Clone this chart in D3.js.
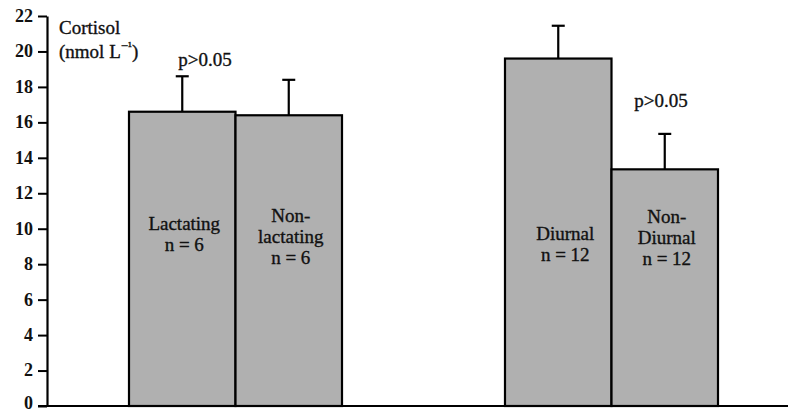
<!DOCTYPE html>
<html>
<head>
<meta charset="utf-8">
<script src="https://cdn.jsdelivr.net/npm/d3@7"></script>
<style>
  body { margin: 0; background: #fff; }
  svg { display: block; font-family: "Liberation Serif", "Times New Roman", serif; }
</style>
</head>
<body>
<div id="chart"></div>
<script>
const width = 788, height = 412;

// data
const groups = ["Lactation", "Diurnal"];
const barLabels = [
    [["Lactating", "n = 6"], ["Non-", "lactating", "n = 6"]],
    [["Diurnal", "n = 12"], ["Non-", "Diurnal", "n = 12"]]
];
const means = [[16.6, 16.4], [19.6, 13.35]];
const errors = [[2.0, 2.0], [1.85, 2.0]];
const pLabels = ["p>0.05", "p>0.05"];
const yTicks = [0, 2, 4, 6, 8, 10, 12, 14, 16, 18, 20, 22];

let svg = d3.select("#chart")
    .append("svg")
    .attr("width", width)
    .attr("height", height);

let y = d3.scaleLinear()
    .domain([0, 22])
    .range([406, 16]);

let x0 = d3.scaleBand()
    .domain(groups)
    .range([129, 718])
    .paddingInner(0.4335);

let x1 = d3.scaleBand()
    .domain([0, 1])
    .range([0, x0.bandwidth()]);

// bars
let bars = [];
groups.forEach(function(g, gi) {
    means[gi].forEach(function(m, bi) {
        bars.push({group: g, gi: gi, bi: bi, value: m, err: errors[gi][bi], label: barLabels[gi][bi]});
    });
});

let barG = svg.append("g");

// error bars first (behind bars)
barG.selectAll("line.err")
    .data(bars)
    .enter()
    .append("line")
    .attr("class", "err")
    .attr("x1", function(d) { return x0(d.group) + x1(d.bi) + x1.bandwidth() / 2; })
    .attr("x2", function(d) { return x0(d.group) + x1(d.bi) + x1.bandwidth() / 2; })
    .attr("y1", function(d) { return y(d.value); })
    .attr("y2", function(d) { return y(d.value + d.err); })
    .attr("stroke", "#000")
    .attr("stroke-width", 2.2);

barG.selectAll("line.cap")
    .data(bars)
    .enter()
    .append("line")
    .attr("class", "cap")
    .attr("x1", function(d) { return x0(d.group) + x1(d.bi) + x1.bandwidth() / 2 - 6.5; })
    .attr("x2", function(d) { return x0(d.group) + x1(d.bi) + x1.bandwidth() / 2 + 6.5; })
    .attr("y1", function(d) { return y(d.value + d.err); })
    .attr("y2", function(d) { return y(d.value + d.err); })
    .attr("stroke", "#000")
    .attr("stroke-width", 2.2);

barG.selectAll("rect")
    .data(bars)
    .enter()
    .append("rect")
    .attr("x", function(d) { return x0(d.group) + x1(d.bi); })
    .attr("y", function(d) { return y(d.value); })
    .attr("width", x1.bandwidth())
    .attr("height", function(d) { return y(0) - y(d.value); })
    .attr("fill", "#b0b0b0")
    .attr("stroke", "#000")
    .attr("stroke-width", 2.2);

// labels inside bars
let labelOffsets = [[230, 222], [240, 223]];
barG.selectAll("text.bar")
    .data(bars)
    .enter()
    .append("text")
    .attr("class", "bar")
    .attr("text-anchor", "middle")
    .attr("font-size", 19)
    .attr("fill", "#111")
    .attr("stroke", "#111")
    .attr("stroke-width", 0.35)
    .each(function(d) {
        let cx = x0(d.group) + x1(d.bi) + x1.bandwidth() / 2 + (d.gi == 1 && d.bi == 0 ? 7 : 2);
        let t = d3.select(this);
        d.label.forEach(function(line, i) {
            t.append("tspan")
                .attr("x", cx)
                .attr("y", labelOffsets[d.gi][d.bi] + i * 21)
                .text(line);
        });
    });

// p-value labels
let pPos = [[205, 66], [661, 107]];
svg.selectAll("text.p")
    .data(pLabels)
    .enter()
    .append("text")
    .attr("class", "p")
    .attr("x", function(d, i) { return pPos[i][0]; })
    .attr("y", function(d, i) { return pPos[i][1]; })
    .attr("text-anchor", "middle")
    .attr("font-size", 19)
    .attr("fill", "#111")
    .attr("stroke", "#111")
    .attr("stroke-width", 0.35)
    .text(function(d) { return d; });

// y axis
let yAxis = svg.append("g")
    .attr("transform", "translate(47,0)")
    .call(d3.axisLeft(y).tickValues(yTicks).tickSize(9).tickPadding(5).tickSizeOuter(0));

yAxis.select(".domain").attr("stroke", "#000").attr("stroke-width", 2.2);
yAxis.selectAll(".tick line").attr("stroke", "#000").attr("stroke-width", 2);
yAxis.selectAll(".tick text")
    .attr("font-family", "Liberation Serif, serif")
    .attr("font-size", 18)
    .attr("font-weight", "bold")
    .attr("dy", function(d) { return d === 0 ? "0.12em" : "0.3em"; })
    .attr("fill", "#111");

// x axis line
svg.append("line")
    .attr("x1", 38)
    .attr("x2", width)
    .attr("y1", y(0))
    .attr("y2", y(0))
    .attr("stroke", "#000")
    .attr("stroke-width", 2.2);

// axis title
let title = svg.append("text")
    .attr("font-size", 19)
    .attr("fill", "#111")
    .attr("stroke", "#111")
    .attr("stroke-width", 0.35);
title.append("tspan").attr("x", 59).attr("y", 34).text("Cortisol");
title.append("tspan").attr("x", 59).attr("y", 58).text("(nmol L");
title.append("tspan").attr("dy", -8).attr("font-size", 13).text("\u2212\u00b9");
title.append("tspan").attr("dy", 8).text(")");
</script>
</body>
</html>
